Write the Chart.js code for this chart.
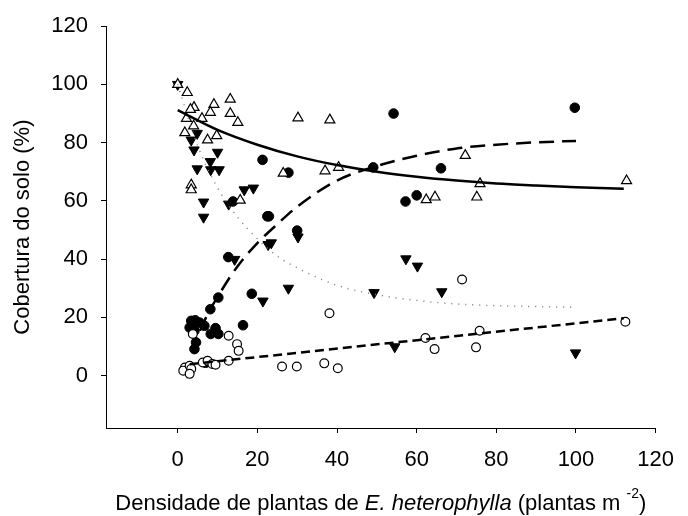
<!DOCTYPE html>
<html>
<head>
<meta charset="utf-8">
<script src="https://cdn.jsdelivr.net/npm/chart.js@4.4.0/dist/chart.umd.min.js"></script>
<style>
    body { margin: 0; background: #fff; }
</style>
</head>
<body>
<canvas id="chart" width="688" height="516"></canvas>
<script>
// AXIS TICKS
let xTicks = [0, 20, 40, 60, 80, 100, 120];
let yTicks = [0, 20, 40, 60, 80, 100, 120];

// OPEN TRIANGLES
let triUpX = [0, 2.4, 13.2, 9.1, 4.1, 3.2, 8.2, 13.2, 2.2, 6.1, 15.1, 4.0, 1.8, 7.5, 9.8, 3.4, 3.4, 15.7,
    30.2, 38.2, 26.5, 37.0, 40.4, 62.4, 64.6, 72.2, 75.9, 75.1, 112.7];
let triUpY = [100, 97.2, 94.9, 93.1, 92.1, 91.4, 90.4, 90.0, 88.3, 88.3, 86.9, 85.7, 83.4, 80.9, 82.4, 65.5, 63.8, 60.2,
    88.5, 87.8, 69.5, 70.3, 71.5, 60.4, 61.3, 75.6, 65.9, 61.3, 66.9];

// FILLED CIRCLES
let dotX = [21.3, 13.9, 22.5, 12.7, 10.2, 8.2, 18.6, 4.4, 3.4, 4.2, 5.5, 3.0, 4.2, 6.7, 9.5, 8.3, 10.2, 4.6, 4.2,
    16.4, 7.0, 54.2, 27.8, 49.1, 66.1, 57.2, 60.0, 22.9, 30.0, 99.7];
let dotY = [74.1, 59.8, 54.7, 40.7, 26.8, 22.8, 28.1, 19.0, 18.8, 17.7, 18.2, 16.5, 15.4, 17.1, 16.3, 14.3, 14.3, 11.4, 9.1,
    17.3, 4.4, 90.0, 69.7, 71.5, 71.2, 59.8, 61.9, 54.7, 49.8, 92.0];

// FILLED INVERTED TRIANGLES
let triDownX = [0, 4.9, 3.4, 4.1, 10, 8.2, 4.9, 8.3, 10.4, 16.7, 19.0, 6.5, 12.8, 6.5, 22.7, 23.5, 14.3, 21.4,
    30.2, 57.3, 60.2, 27.8, 49.3, 66.3, 54.5, 99.9];
let triDownY = [100, 83.2, 80.9, 77.5, 76.7, 73.5, 71.0, 70.7, 70.7, 63.8, 64.4, 59.6, 58.9, 54.4, 45.0, 45.6, 39.9, 25.6,
    47.6, 40.1, 37.6, 30.0, 28.5, 28.8, 9.9, 7.8];

// OPEN CIRCLES
let ringX = [3.8, 12.8, 14.9, 15.3, 1.8, 1.4, 3.0, 3.4, 3.0, 6.3, 7.5, 8.7, 9.5, 12.8, 71.4, 38.1, 62.2, 64.5,
    26.2, 29.9, 36.8, 40.2, 75.8, 74.9, 112.4];
let ringY = [14.3, 13.7, 10.8, 8.5, 2.8, 1.7, 3.4, 2.3, 0.6, 4.5, 5.1, 4.0, 3.7, 5.1, 33.0, 21.4, 12.9, 9.1,
    3.1, 3.1, 4.2, 2.5, 15.4, 9.7, 18.5];

// FITTED CURVES
let solidX = [0, 10, 20, 30, 40, 50, 60, 70, 80, 90, 100, 112];
let solidY = [91.2, 84.4, 79.3, 75.3, 72.3, 70.0, 68.3, 67.0, 66.0, 65.3, 64.7, 64.2];
let longDashX = [3.5, 5, 7.5, 10, 15, 20, 25, 30, 40, 50, 60, 70, 80, 90, 100];
let longDashY = [8, 13.5, 21, 27, 37.5, 45.5, 52, 58, 67, 72, 75.5, 78, 79.3, 80.1, 80.6];
let dottedX = [0, 5, 10, 15, 20, 25, 30, 40, 50, 60, 70, 80, 90, 100];
let dottedY = [100, 79, 64.5, 54.5, 47, 41, 37, 31, 27.8, 25.8, 24.6, 24, 23.7, 23.5];
let shortDashX = [3, 112];
let shortDashY = [3.9, 19.7];

function pts(xs, ys) {
    return xs.map((x, i) => ({ x: x, y: ys[i] }));
}

function curve(xs, ys, dash, color, width, order) {
    return {
        data: pts(xs, ys),
        showLine: true,
        borderColor: color,
        borderWidth: width,
        borderDash: dash,
        pointRadius: 0,
        cubicInterpolationMode: "monotone",
        order: order,
    };
}

// x axis title with italic species name and superscript
let xTitle = {
    id: "xTitle",
    afterDraw(chart) {
        let ctx = chart.ctx;
        let area = chart.chartArea;
        let parts = [
            ["Densidade de plantas de ", "22px 'Liberation Sans', Arial", 0],
            ["E. heterophylla", "italic 22px 'Liberation Sans', Arial", 0],
            [" (plantas m ", "22px 'Liberation Sans', Arial", 0],
            ["-2", "14px 'Liberation Sans', Arial", -12],
            [")", "22px 'Liberation Sans', Arial", 0],
        ];
        ctx.save();
        let total = 0;
        parts.forEach(p => { ctx.font = p[1]; total += ctx.measureText(p[0]).width; });
        let x = (area.left + area.right) / 2 - total / 2;
        let y = 510;
        ctx.fillStyle = "#000";
        ctx.textBaseline = "alphabetic";
        parts.forEach(p => {
            ctx.font = p[1];
            ctx.fillText(p[0], x, y + p[2]);
            x += ctx.measureText(p[0]).width;
        });
        ctx.restore();
    }
};

Chart.defaults.font.family = "'Liberation Sans', Arial, sans-serif";
Chart.defaults.color = "#000";

new Chart("chart", {
    type: "scatter",
    data: {
        datasets: [
            curve(solidX, solidY, [], "#000", 2.5, 0),
            curve(longDashX, longDashY, [15, 8], "#000", 2.5, 1),
            curve(dottedX, dottedY, [1, 6], "#777", 1.5, 2),
            curve(shortDashX, shortDashY, [9, 5], "#000", 2.5, 3),
            {
                data: pts(ringX, ringY),
                pointStyle: "circle",
                pointRadius: 4.4,
                pointBackgroundColor: "#fff",
                pointBorderColor: "#000",
                pointBorderWidth: 1.2,
                order: 4,
            },
            {
                data: pts(triUpX, triUpY),
                pointStyle: "triangle",
                pointRadius: 5.8,
                pointBackgroundColor: "#fff",
                pointBorderColor: "#000",
                pointBorderWidth: 1.2,
                order: 5,
            },
            {
                data: pts(triDownX, triDownY),
                pointStyle: "triangle",
                rotation: 180,
                pointRotation: 180,
                pointRadius: 6,
                pointBackgroundColor: "#000",
                pointBorderColor: "#000",
                pointBorderWidth: 1,
                order: 6,
            },
            {
                data: pts(dotX, dotY),
                pointStyle: "circle",
                pointRadius: 4.8,
                pointBackgroundColor: "#000",
                pointBorderColor: "#000",
                pointBorderWidth: 1,
                order: 7,
            },
        ],
    },
    options: {
        responsive: false,
        animation: false,
        layout: { padding: { left: 0, right: 21, top: 24, bottom: 0 } },
        plugins: {
            legend: { display: false },
            tooltip: { enabled: false },
        },
        scales: {
            x: {
                type: "linear",
                min: -18,
                max: 120,
                afterBuildTicks: s => { s.ticks = xTicks.map(v => ({ value: v })); },
                afterFit: s => { s.height = 88; },
                grid: { drawOnChartArea: false, tickLength: 5, color: "#000" },
                border: { color: "#000", width: 1 },
                ticks: { font: { size: 22 }, padding: 14, maxRotation: 0 },
            },
            y: {
                type: "linear",
                min: -18,
                max: 120,
                afterBuildTicks: s => { s.ticks = yTicks.map(v => ({ value: v })); },
                afterFit: s => { s.width = 106; },
                grid: { drawOnChartArea: false, tickLength: 5, color: "#000" },
                border: { color: "#000", width: 1 },
                ticks: { font: { size: 22 }, padding: 13 },
                title: {
                    display: true,
                    text: "Cobertura do solo (%)",
                    font: { size: 22 },
                    padding: { top: 10, bottom: 0 },
                },
            },
        },
    },
    plugins: [xTitle],
});
</script>
</body>
</html>
